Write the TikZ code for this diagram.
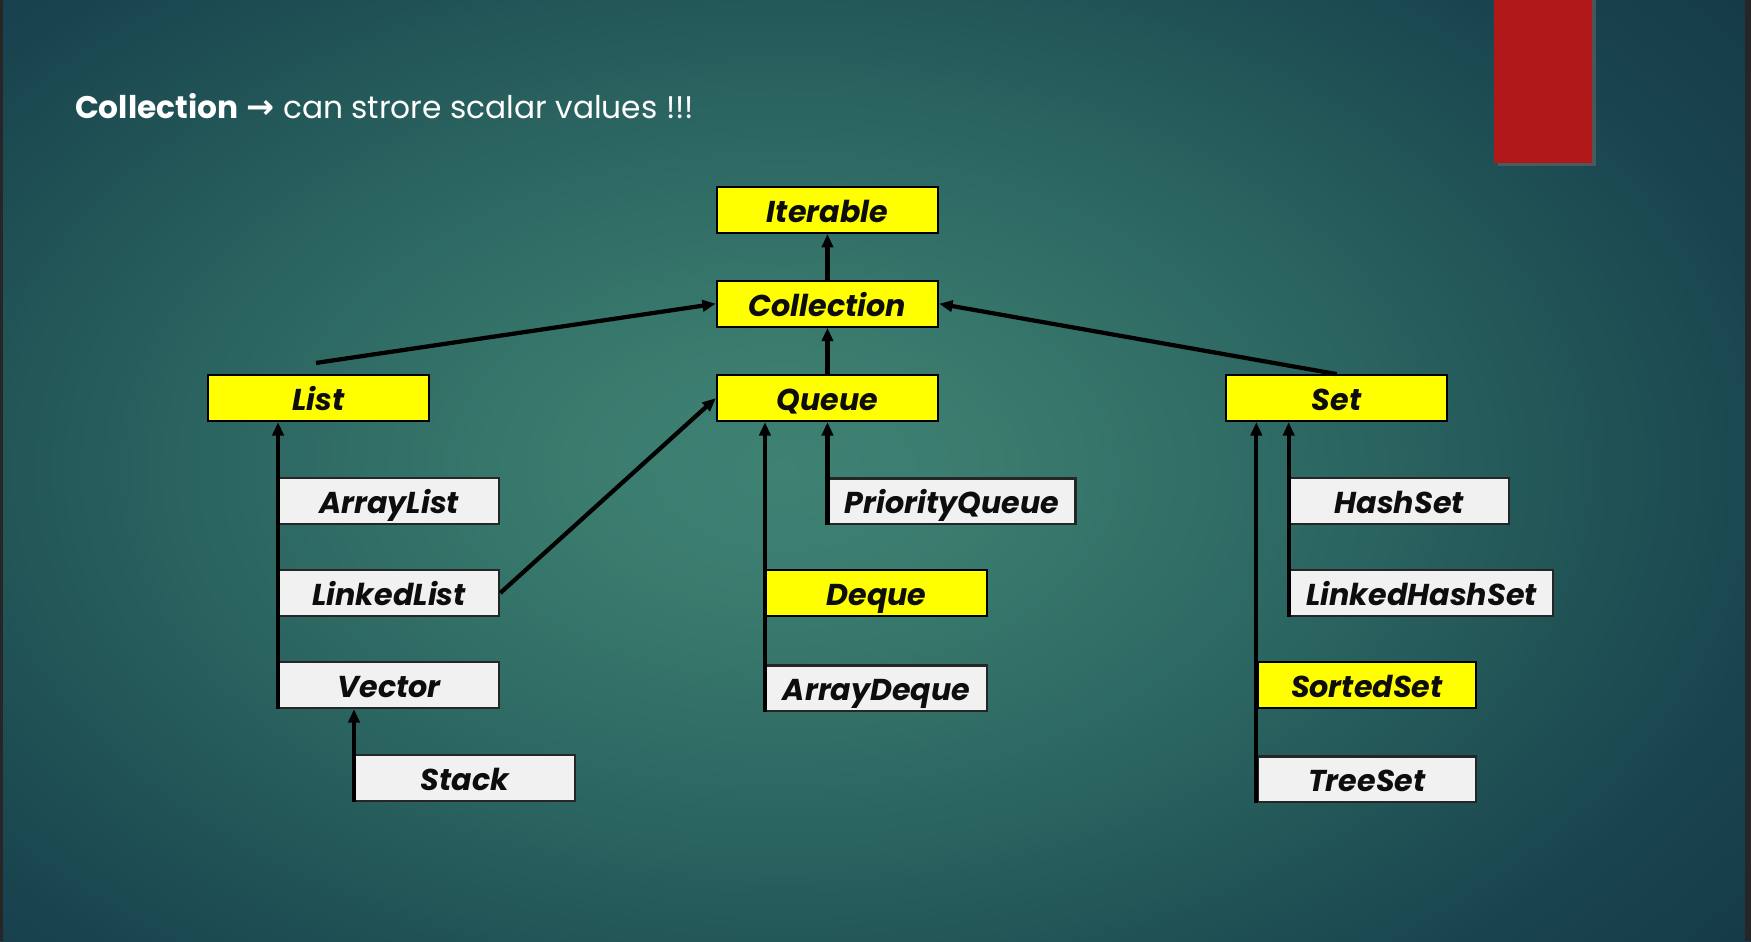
\documentclass[tikz,border=0pt]{standalone}
\usepackage{fontspec}
\setmainfont{Poppins}
\newfontfamily\arrowfont{DejaVu Sans}
\usetikzlibrary{arrows.meta}
\definecolor{bgA}{HTML}{3E8274}
\definecolor{bgB}{HTML}{3A7B6E}
\definecolor{bgC}{HTML}{316E66}
\definecolor{bgD}{HTML}{28605E}
\definecolor{bgE}{HTML}{215456}
\definecolor{bgF}{HTML}{19444F}
\definecolor{bgG}{HTML}{153A48}
\definecolor{boxyellow}{HTML}{FFFF00}
\definecolor{boxgray}{HTML}{F1F1F1}
\definecolor{redbar}{HTML}{B0181A}
\pgfdeclareradialshading{bgshade}{\pgfpoint{0bp}{0bp}}{color(0bp)=(bgA); color(4bp)=(bgB); color(8bp)=(bgC); color(12bp)=(bgD); color(15bp)=(bgE); color(19bp)=(bgF); color(23bp)=(bgG); color(50bp)=(bgG)}
\tikzset{
  box/.style={draw=black, line width=2pt, minimum height=41pt, inner sep=0pt,
    text height=22pt, text depth=0pt,
    font=\fontsize{27}{30}\selectfont\bfseries\itshape, text=black!95},
  ybox/.style={box, fill=boxyellow},
  gbox/.style={box, fill=boxgray, draw=black!85},
  arr/.style={line width=3.8pt, -{Triangle[length=12pt,width=10pt]}},
}
\begin{document}
\begin{tikzpicture}[x=1pt,y=-1pt]
\useasboundingbox (0,0) rectangle (1568,843);
\begin{scope}
\clip (0,0) rectangle (1568,843);
\shade[shading=bgshade] (-500,-330) rectangle (1900,1170);
\fill[black!85] (0,0) rectangle (3,843);
\fill[black!85] (1563,0) rectangle (1568,843);
\end{scope}
% red bar
\fill[black!60, opacity=0.6] (1341,0) rectangle (1429,149);
\fill[redbar] (1338,0) rectangle (1426,146);
% title
\node[anchor=base west, text=white, inner sep=0pt, font=\fontsize{28}{30}\selectfont] (title) at (67,106)
  {\textbf{Collection} {\arrowfont\fontsize{30}{30}\selectfont\bfseries →} can strore scalar values !!!};
% nodes
\node[ybox, minimum width=198pt] (iter) at (741,188) {Iterable};
\node[ybox, minimum width=198pt] (coll) at (741,272) {Collection};
\node[ybox, minimum width=198pt] (list) at (285,356.5) {List};
\node[ybox, minimum width=198pt] (queue) at (741,356.5) {Queue};
\node[ybox, minimum width=198pt] (set) at (1197,356.5) {Set};
\node[gbox, minimum width=197pt] (alist) at (348.5,448.5) {ArrayList};
\node[gbox, minimum width=197pt] (llist) at (348.5,531) {LinkedList};
\node[gbox, minimum width=197pt] (vec) at (348.5,613.5) {Vector};
\node[gbox, minimum width=197pt] (stack) at (416.5,696.5) {Stack};
\node[gbox, minimum width=221pt] (pq) at (852.5,449) {PriorityQueue};
\node[ybox, minimum width=198pt] (deque) at (785,531) {Deque};
\node[gbox, minimum width=198pt] (adeque) at (785,616.5) {ArrayDeque};
\node[gbox, minimum width=196pt] (hset) at (1253,448.5) {HashSet};
\node[gbox, minimum width=236pt] (lhset) at (1273,531) {LinkedHashSet};
\node[ybox, minimum width=196pt] (sset) at (1224,613.5) {SortedSet};
\node[gbox, minimum width=196pt] (tset) at (1224,698) {TreeSet};
% connectors
\draw[arr] (coll.north) -- (iter.south);
\draw[arr] (queue.north) -- (coll.south);
\draw[arr] ([xshift=-2pt,yshift=10pt]list.north) -- (coll.west);
\draw[arr] (set.north) -- (coll.east);
\draw[arr] (llist.east) -- (queue.west);
\draw[arr] (vec.south west) -- (vec.west |- list.south);
\draw[arr] (stack.south west) -- (stack.west |- vec.south);
\draw[arr] (adeque.south west) -- (adeque.west |- queue.south);
\draw[arr] (pq.south west) -- (pq.west |- queue.south);
\draw[arr] (tset.south west) -- (tset.west |- set.south);
\draw[arr] (lhset.south west) -- (lhset.west |- set.south);
\end{tikzpicture}
\end{document}
